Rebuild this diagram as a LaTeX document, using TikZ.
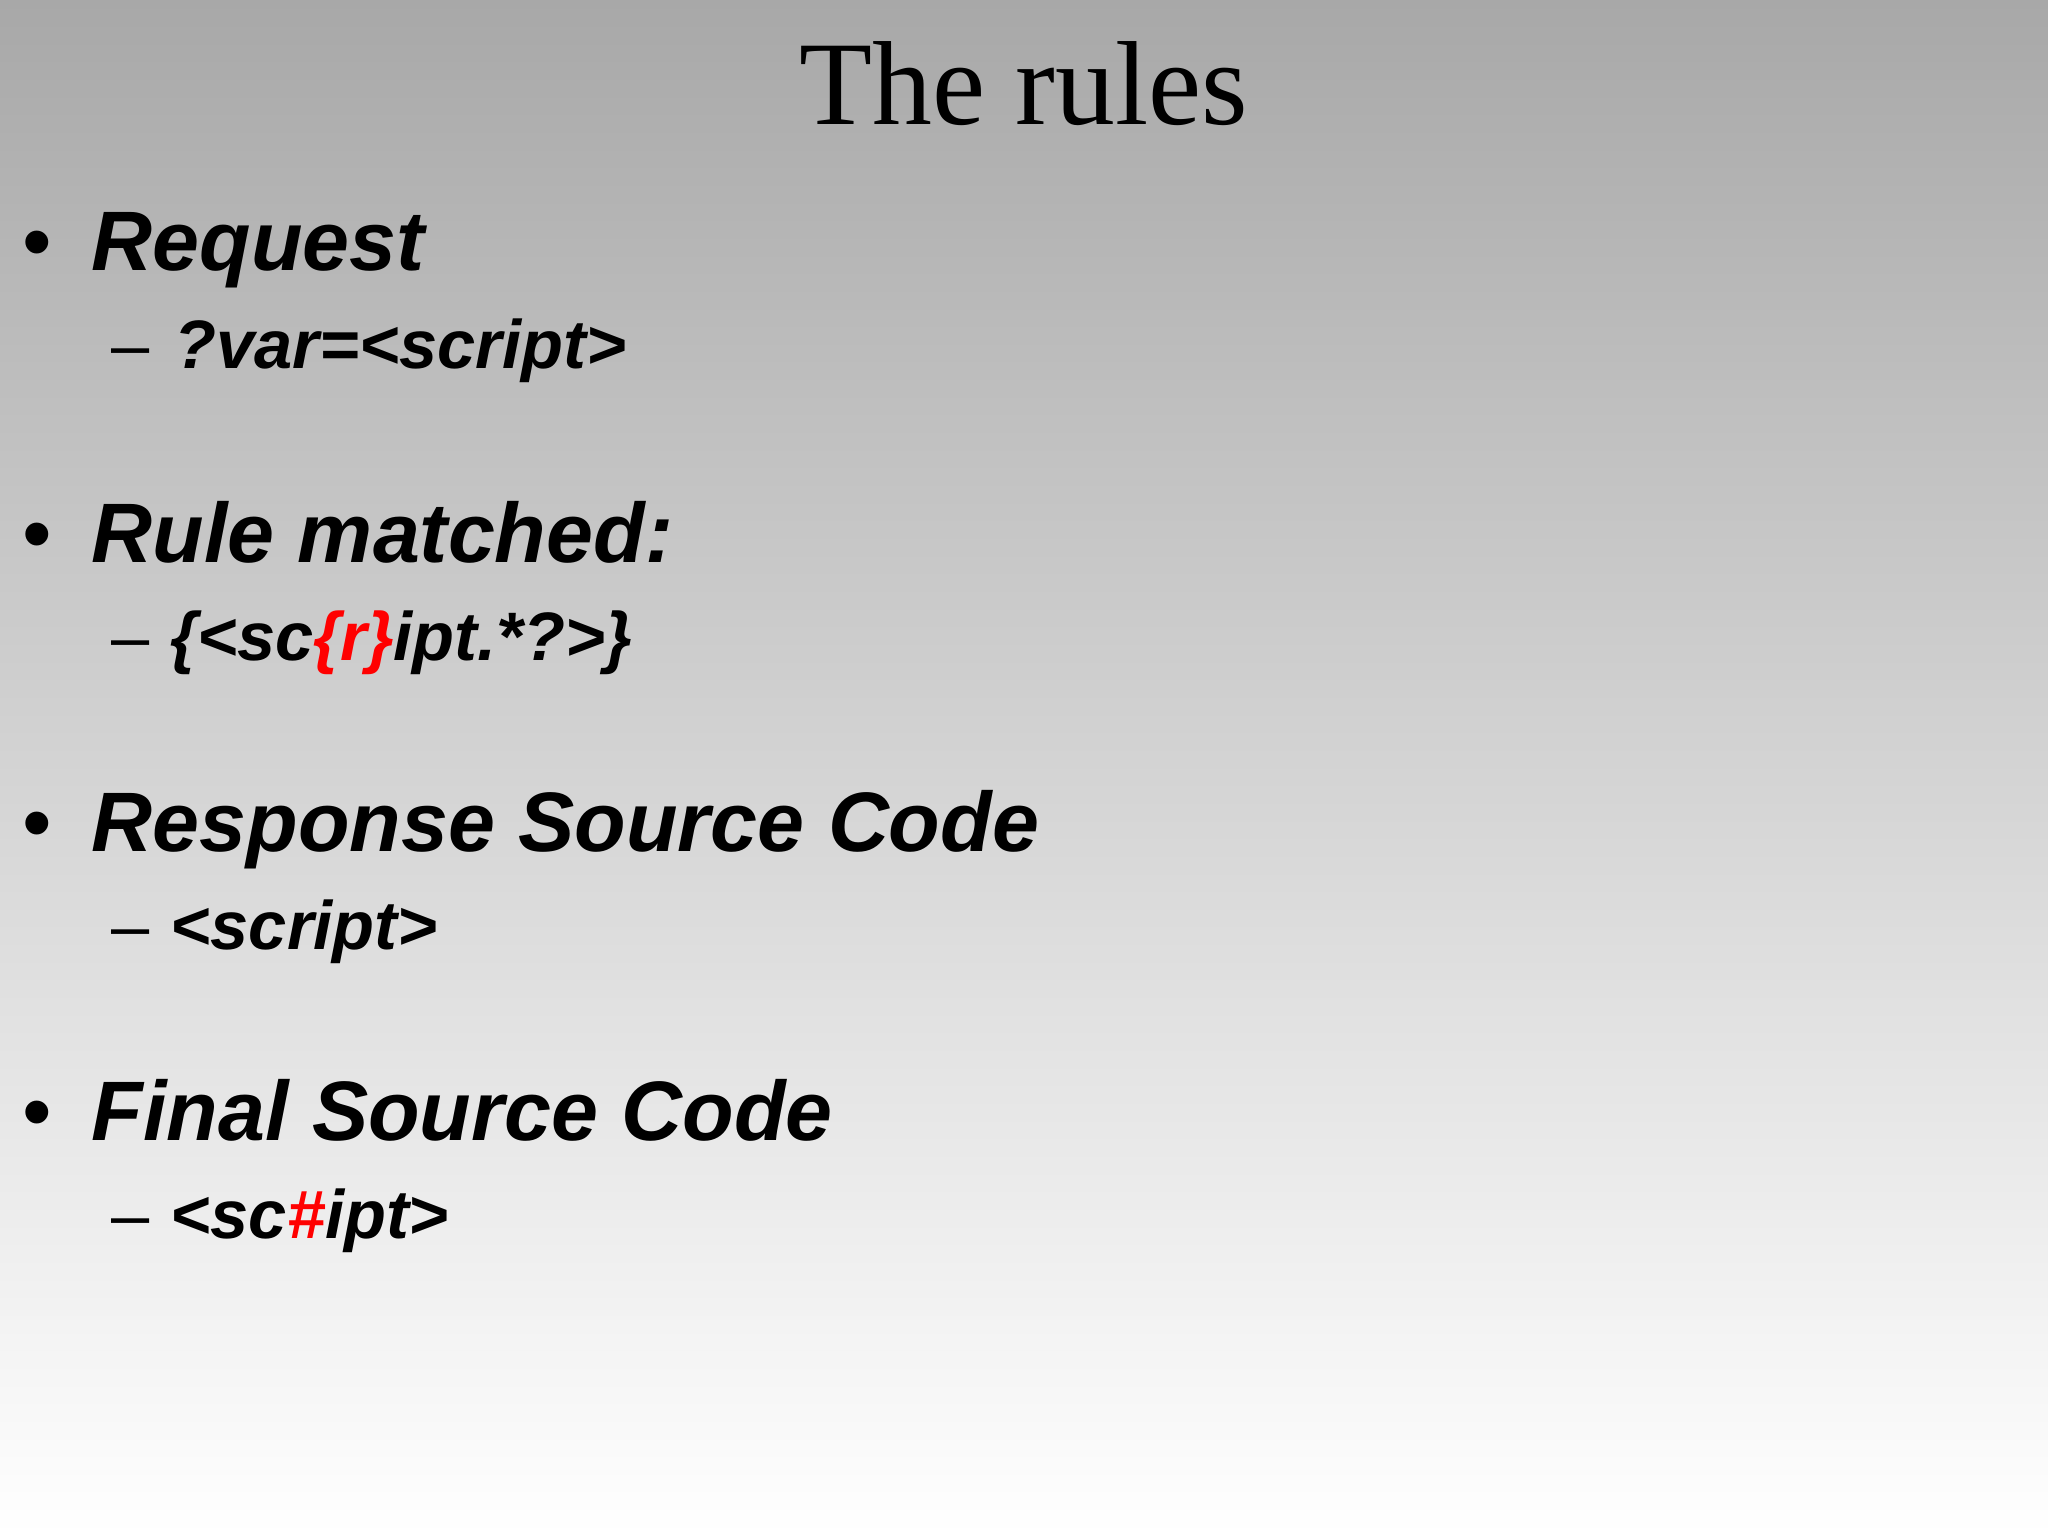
\documentclass[tikz,border=0pt]{standalone}
\usepackage{fontspec}
\setmainfont{Liberation Sans}
\newfontfamily\serifT{Liberation Serif}
\begin{document}
\begin{tikzpicture}[x=0.01cm,y=-0.01cm,
  big/.style={anchor=base west,inner sep=0,font=\fontsize{24}{28}\selectfont\bfseries\itshape},
  small/.style={anchor=base west,inner sep=0,font=\fontsize{19.5}{23}\selectfont\bfseries\itshape},
  bul/.style={anchor=base west,inner sep=0,font=\fontsize{24}{28}\selectfont},
  dsh/.style={anchor=base west,inner sep=0,font=\fontsize{19.5}{23}\selectfont}]
\shade[top color={rgb,255:red,168;green,168;blue,168}, bottom color=white] (0,0) rectangle (2048,1536);
\useasboundingbox (0,0) rectangle (2048,1536);
\node[anchor=base,inner sep=0,font=\serifT\fontsize{34}{40}\selectfont] (title) at (1024,124) {The rules};
\node[bul] (b1) at (22,270) {•};
\node[big] (t1) at (91,270) {Request};
\node[dsh] (d1) at (111,368) {–};
\node[small] (s1) at (174,368) {?var=<script>};
\node[bul] (b2) at (22,562) {•};
\node[big] (t2) at (91,562) {Rule matched:};
\node[dsh] (d2) at (111,660) {–};
\node[small] (s2) at (170,660) {\{<sc\textcolor{red}{\{r\}}ipt.*?>\}};
\node[bul] (b3) at (22,851) {•};
\node[big] (t3) at (91,851) {Response Source Code};
\node[dsh] (d3) at (111,949) {–};
\node[small] (s3) at (170,949) {<script>};
\node[bul] (b4) at (22,1140) {•};
\node[big] (t4) at (91,1140) {Final Source Code};
\node[dsh] (d4) at (111,1238) {–};
\node[small] (s4) at (170,1238) {<sc\textcolor{red}{\#}ipt>};
\end{tikzpicture}
\end{document}
